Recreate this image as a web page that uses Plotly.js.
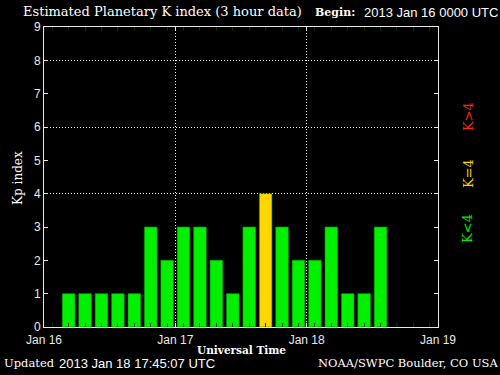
<!DOCTYPE html>
<html>
<head>
<meta charset="utf-8">
<script src="https://cdn.plot.ly/plotly-3.0.1.min.js"></script>
<style>
  html, body { margin: 0; padding: 0; background: #000; }
  #chart { width: 500px; height: 375px; }
</style>
</head>
<body>
<div id="chart"></div>
<script>
// 3-hour interval centres (UTC)
const times = [
  '2013-01-16 04:30', '2013-01-16 07:30', '2013-01-16 10:30', '2013-01-16 13:30',
  '2013-01-16 16:30', '2013-01-16 19:30', '2013-01-16 22:30', '2013-01-17 01:30',
  '2013-01-17 04:30', '2013-01-17 07:30', '2013-01-17 10:30', '2013-01-17 13:30',
  '2013-01-17 16:30', '2013-01-17 19:30', '2013-01-17 22:30', '2013-01-18 01:30',
  '2013-01-18 04:30', '2013-01-18 07:30', '2013-01-18 10:30', '2013-01-18 13:30'
];
const kpValues = [1, 1, 1, 1, 1, 3, 2, 3, 3, 2, 1, 3, 4, 3, 2, 2, 3, 1, 1, 3];

const dayTicks = ['2013-01-16', '2013-01-17', '2013-01-18', '2013-01-19'];
const dayLabels = ['Jan 16', 'Jan 17', 'Jan 18', 'Jan 19'];
const kpTicks = [0, 1, 2, 3, 4, 5, 6, 7, 8, 9];
const kpGrid = [4, 6, 8];

const GREEN = '#00f000', YELLOW = '#ffd700', RED = '#ff2a00';
const barColors = kpValues.map(v => v < 4 ? GREEN : (v === 4 ? YELLOW : RED));

const SERIF = 'DejaVu Serif, serif';
const SANS = 'Liberation Sans, Arial, sans-serif';
const AXC = '#e8e8e8';

const bars = {
  type: 'bar',
  x: times,
  y: kpValues,
  width: 2.3 * 3600 * 1000,
  marker: { color: barColors, line: { width: 0.6, color: '#00a000' } },
  hoverinfo: 'skip',
  xaxis: 'x', yaxis: 'y'
};
// empty trace so the overlaying grid axis is drawn
const gridHolder = {
  type: 'scatter', mode: 'markers',
  x: [null], y: [null],
  xaxis: 'x', yaxis: 'y2', hoverinfo: 'skip'
};

const layout = {
  width: 500, height: 375,
  margin: { l: 44, r: 62, t: 27, b: 48 },
  paper_bgcolor: '#000', plot_bgcolor: '#000',
  showlegend: false,
  bargap: 0,
  xaxis: {
    type: 'date',
    range: ['2013-01-16 00:00', '2013-01-19 00:00'],
    tickmode: 'array', tickvals: dayTicks, ticktext: dayLabels,
    tickfont: { family: SANS, size: 12, color: AXC },
    ticklabelstandoff: 2,
    ticks: 'inside', ticklen: 4, tickcolor: AXC, tickwidth: 1,
    showline: true, linecolor: AXC, linewidth: 1, mirror: 'ticks',
    showgrid: true, gridcolor: '#ffffff', griddash: '1px,2px', gridwidth: 1,
    zeroline: false,
    layer: 'above traces',
    minor: {
      tick0: '2013-01-16 01:30', dtick: 3 * 3600 * 1000,
      ticks: 'inside', ticklen: 4, tickcolor: '#003300', tickwidth: 1,
      showgrid: false
    },
    fixedrange: true
  },
  yaxis: {
    range: [0, 9],
    tickmode: 'array', tickvals: kpTicks,
    tickfont: { family: SANS, size: 12, color: AXC },
    ticks: 'inside', ticklen: 4, tickcolor: AXC, tickwidth: 1,
    showline: true, linecolor: AXC, linewidth: 1, mirror: 'ticks',
    showgrid: false, zeroline: false,
    layer: 'above traces',
    fixedrange: true
  },
  yaxis2: {
    overlaying: 'y', side: 'left', range: [0, 9],
    tickmode: 'array', tickvals: kpGrid,
    showticklabels: false, ticks: '',
    showgrid: true, gridcolor: '#ffffff', griddash: '1px,2px', gridwidth: 1,
    showline: false, zeroline: false, fixedrange: true
  },
  annotations: [
    { text: 'Estimated Planetary K index (3 hour data)', xref: 'paper', yref: 'paper',
      x: -0.059, y: 1.05, xanchor: 'left', yanchor: 'middle', showarrow: false,
      font: { family: SERIF, size: 13, color: '#ffffff' } },
    { text: '<b>Begin:</b>', xref: 'paper', yref: 'paper',
      x: 0.683, y: 1.047, xanchor: 'left', yanchor: 'middle', showarrow: false,
      font: { family: SERIF, size: 11, color: '#ffffff' } },
    { text: '2013 Jan 16 0000 UTC', xref: 'paper', yref: 'paper',
      x: 1.157, y: 1.047, xanchor: 'right', yanchor: 'middle', showarrow: false,
      font: { family: SANS, size: 13, color: '#ffffff' } },
    { text: 'Kp index', xref: 'paper', yref: 'paper',
      x: -0.066, y: 0.497, xanchor: 'center', yanchor: 'middle', textangle: -90, showarrow: false,
      font: { family: SERIF, size: 12, color: '#ffffff' } },
    { text: '<b>Universal Time</b>', xref: 'paper', yref: 'paper',
      x: 0.5, y: -0.077, xanchor: 'center', yanchor: 'middle', showarrow: false,
      font: { family: SERIF, size: 10.5, color: '#ffffff' } },
    { text: 'Updated', xref: 'paper', yref: 'paper',
      x: -0.1066, y: -0.12, xanchor: 'left', yanchor: 'middle', showarrow: false,
      font: { family: SERIF, size: 11.5, color: '#ffffff' } },
    { text: '2013 Jan 18 17:45:07 UTC', xref: 'paper', yref: 'paper',
      x: 0.033, y: -0.12, xanchor: 'left', yanchor: 'middle', showarrow: false,
      font: { family: SANS, size: 13, color: '#ffffff' } },
    { text: 'NOAA/SWPC Boulder, CO USA', xref: 'paper', yref: 'paper',
      x: 1.157, y: -0.12, xanchor: 'right', yanchor: 'middle', showarrow: false,
      font: { family: SERIF, size: 11.5, color: '#ffffff' } },
    { text: 'K&gt;4', xref: 'paper', yref: 'paper',
      x: 1.076, y: 0.703, xanchor: 'center', yanchor: 'middle', textangle: -90, showarrow: false,
      font: { family: SERIF, size: 13, color: RED } },
    { text: 'K=4', xref: 'paper', yref: 'paper',
      x: 1.076, y: 0.513, xanchor: 'center', yanchor: 'middle', textangle: -90, showarrow: false,
      font: { family: SERIF, size: 13, color: YELLOW } },
    { text: 'K&lt;4', xref: 'paper', yref: 'paper',
      x: 1.076, y: 0.33, xanchor: 'center', yanchor: 'middle', textangle: -90, showarrow: false,
      font: { family: SERIF, size: 13, color: GREEN } }
  ]
};

Plotly.newPlot('chart', [bars, gridHolder], layout, { displayModeBar: false, staticPlot: true });
</script>
</body>
</html>
